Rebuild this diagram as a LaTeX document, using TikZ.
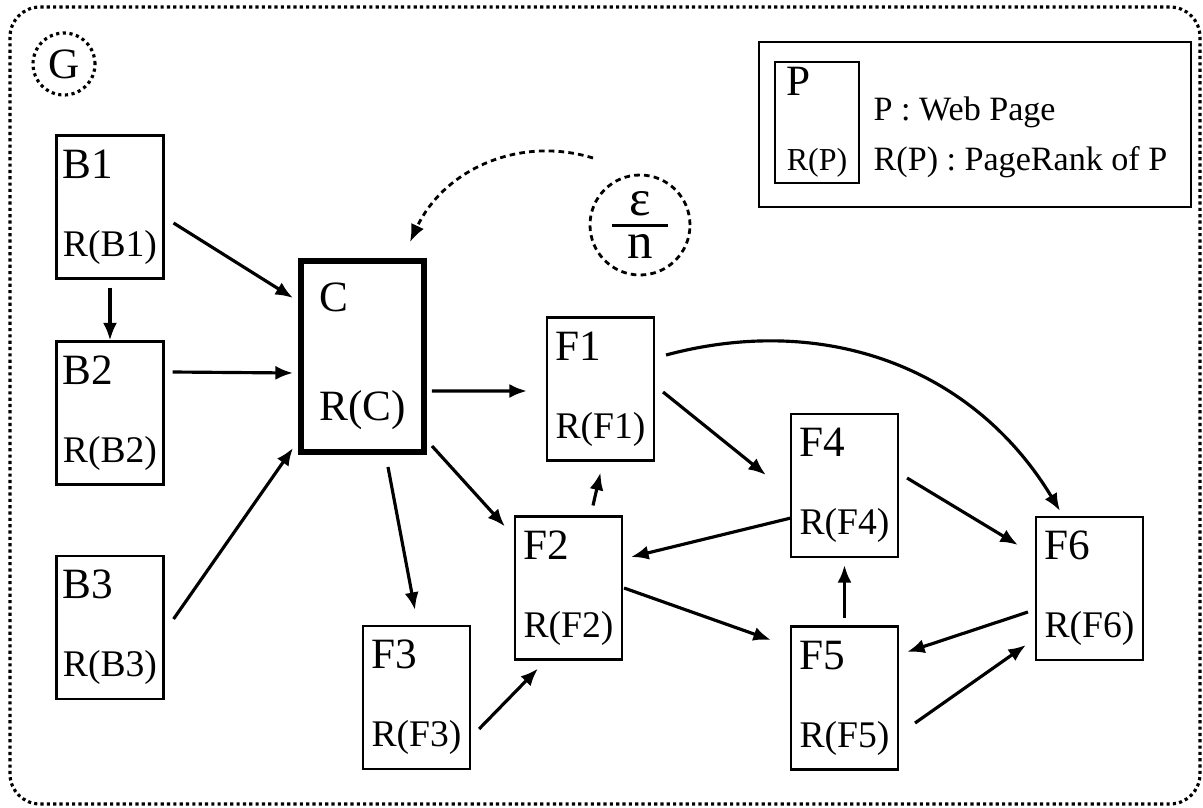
\documentclass[tikz,border=0pt]{standalone}
\usepackage{fontspec}
\setmainfont{Liberation Serif}
\usetikzlibrary{arrows.meta}
\newcommand{\namefont}{\fontsize{12.3pt}{14pt}\selectfont}
\newcommand{\rankfont}{\fontsize{10.7pt}{13pt}\selectfont}
\newcommand{\keyfont}{\fontsize{9.7pt}{12pt}\selectfont}
% page name on top, rank below, fixed baseline distance
\newcommand{\pagelabel}[3][22.2pt]{\vbox{\baselineskip=#1\lineskiplimit=-\maxdimen
  \hbox{\namefont #2}\hbox{\rankfont #3}}}
% upright fraction with a wide bar
\newcommand{\jumpfrac}[2]{\vbox{\hbox to 16pt{\hss#1\hss}\kern2.3pt
  \hrule height 0.8pt\kern2pt\hbox to 16pt{\hss#2\hss}}}
\tikzset{
  graphframe/.style={line width=0.9pt, dash pattern=on 0.9pt off 0.9pt,
                     rounded corners=0.3cm},
  pagebox/.style={rectangle, draw, line width=0.6pt, inner sep=0pt,
                  minimum width=1.07cm, minimum height=1.43cm},
  hubbox/.style={pagebox, line width=1.7pt,
                 minimum width=1.23cm, minimum height=1.91cm},
  keybox/.style={rectangle, draw, line width=0.6pt,
                 minimum width=4.32cm, minimum height=1.65cm},
  keytext/.style={anchor=base west, inner sep=0pt, font=\keyfont},
  dotring/.style={circle, draw, line width=0.9pt, inner sep=0pt,
                  dash pattern=on 0.9pt off 1pt, minimum size=0.62cm},
  dashring/.style={circle, draw, line width=0.8pt, inner sep=0pt,
                   dash pattern=on 1.6pt off 1.2pt, minimum size=1.0cm},
  link/.style={-{Latex[length=5pt,width=4pt]}, line width=0.9pt},
  jumplink/.style={link, line width=0.8pt, dash pattern=on 1.6pt off 1.2pt},
}

\begin{document}
\begin{tikzpicture}
  \useasboundingbox (0,0) rectangle (12.03,8.07);
  % graph G
  \draw[graphframe] (0.10,0.03) rectangle (12.00,8.00);
  \node[dotring] (G) at (0.64,7.43) {\namefont G};
  % legend
  \node[keybox] (key) at (9.75,6.825) {};
  \node[pagebox, minimum width=0.84cm, minimum height=1.21cm] (keypage) at (8.17,6.845)
    {\pagelabel[21.3pt]{P}{\fontsize{9.1pt}{11pt}\selectfont R(P)}};
  \node[keytext] (keyP) at (8.73,6.87) {P : Web Page};
  \node[keytext] (keyR) at (8.73,6.37) {R(P) : PageRank of P};
  % pages
  \node[pagebox] (B1) at (1.10,6.00) {\pagelabel{B1}{R(B1)}};
  \node[pagebox] (B2) at (1.10,3.94) {\pagelabel{B2}{R(B2)}};
  \node[pagebox] (B3) at (1.10,1.795) {\pagelabel{B3}{R(B3)}};
  \node[hubbox] (C) at (3.625,4.505) {\pagelabel[31pt]{C}{\namefont R(C)}};
  \node[pagebox] (F1) at (6.005,4.18) {\pagelabel{F1}{R(F1)}};
  \node[pagebox] (F2) at (5.685,2.19) {\pagelabel{F2}{R(F2)}};
  \node[pagebox] (F3) at (4.165,1.095) {\pagelabel{F3}{R(F3)}};
  \node[pagebox] (F4) at (8.445,3.215) {\pagelabel{F4}{R(F4)}};
  \node[pagebox] (F5) at (8.445,1.09) {\pagelabel{F5}{R(F5)}};
  \node[pagebox] (F6) at (10.895,2.185) {\pagelabel{F6}{R(F6)}};
  \node[dashring] (eps) at (6.40,5.82)
    {\fontsize{14.5pt}{16pt}\selectfont\jumpfrac{ε}{n}};
  % links
  \draw[link] ([shift={(0.09,-0.16)}]B1.east) -- ([shift={(-0.05,0.585)}]C.west);
  \draw[link] ([shift={(0,-0.08)}]B1.south) -- (B2.north);
  \draw[link] ([shift={(0.08,0.41)}]B2.east) -- ([shift={(-0.05,-0.165)}]C.west);
  \draw[link] ([shift={(0.09,0.085)}]B3.east) -- ([shift={(-0.05,0.07)}]C.south west);
  \draw[link] ([shift={(0.05,-0.345)}]C.east) -- ([shift={(-0.19,-0.02)}]F1.west);
  \draw[link] ([shift={(0.05,0.09)}]C.south east) -- ([shift={(-0.09,-0.11)}]F2.north west);
  \draw[link] ([shift={(0.255,-0.12)}]C.south) -- ([shift={(-0.015,0.15)}]F3.north);
  \draw[link] ([shift={(0.08,-0.315)}]F3.east) -- ([shift={(-0.305,-0.08)}]F2.south);
  \draw[link] ([shift={(0.245,0.10)}]F2.north) -- ([shift={(0,-0.11)}]F1.south);
  \draw[link] ([shift={(0.08,-0.03)}]F1.east) -- ([shift={(-0.24,0.105)}]F4.west);
  \draw[link] ([shift={(0.11,0.34)}]F1.east) to[out=15,in=121] ([shift={(-0.295,0.05)}]F6.north);
  \draw[link] ([shift={(0.01,-0.325)}]F4.west) -- ([shift={(0.08,0.31)}]F2.east);
  \draw[link] ([shift={(0.01,0)}]F2.east) -- ([shift={(-0.19,0.58)}]F5.west);
  \draw[link] ([shift={(0.08,0.075)}]F4.east) -- ([shift={(-0.17,0.435)}]F6.west);
  \draw[link] ([shift={(0,0.07)}]F5.north) -- ([shift={(0,-0.07)}]F4.south);
  \draw[link] ([shift={(-0.07,-0.235)}]F6.west) -- ([shift={(0.08,0.46)}]F5.east);
  \draw[link] ([shift={(0.16,-0.25)}]F5.east) -- ([shift={(-0.09,-0.565)}]F6.west);
  % random jump
  \draw[jumplink] ([shift={(-0.47,0.67)}]eps.center) to[out=163,in=65] ([shift={(0.475,0.16)}]C.north);
\end{tikzpicture}
\end{document}
